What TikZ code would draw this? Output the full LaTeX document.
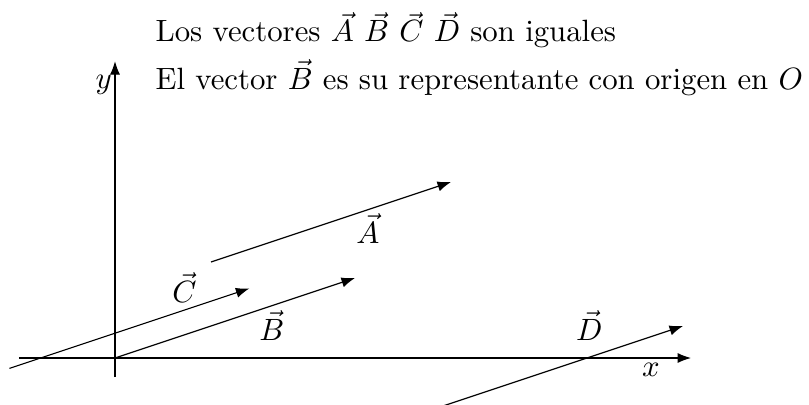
\documentclass[11pt,tikz,border=0pt]{standalone}
\usepackage{tikz}
\usetikzlibrary{arrows.meta}
\tikzset{
  axis/.style     = {->, >=Latex},          % coordinate axes
  vecarrow/.style = {->, >=Latex},          % the equal vectors
  vlabel/.style   = {inner sep=0pt},
  caption/.style  = {anchor=base west, inner sep=0pt}
}

\begin{document}
\begin{tikzpicture}
  \useasboundingbox (-1.4375,-0.575) rectangle (8.675,4.475);
  % axes
  \coordinate (O)  at (0,0);
  \coordinate (xl) at (-1.2,0);
  \coordinate (xr) at (7.2,0);
  \coordinate (yb) at (0,-0.24);
  \coordinate (yt) at (0,3.71);
  \draw[axis] (xl) -- (xr);
  \draw[axis] (yb) -- (yt);
  \node[vlabel] (xlab) at (6.7,-0.15) {$x$};
  \node[vlabel] (ylab) at (-0.14,3.41) {$y$};
  % vectors
  \coordinate (Bt) at (3,1);
  \coordinate (As) at (1.2,1.2);
  \coordinate (At) at (4.2,2.2);
  \coordinate (Cs) at (-1.32,-0.13);
  \coordinate (Ct) at (1.68,0.87);
  \coordinate (Ds) at (4.1,-0.6);
  \coordinate (Dt) at (7.1,0.4);
  \draw[vecarrow] (O) -- (Bt);
  \draw[vecarrow] (As) -- (At);
  \draw[vecarrow] (Cs) -- (Ct);
  \draw[vecarrow] (Ds) -- (Dt);
  \node[vlabel] (Alab) at (3.16,1.62) {$\vec{A}$};
  \node[vlabel] (Blab) at (1.96,0.41) {$\vec{B}$};
  \node[vlabel] (Clab) at (0.87,0.88) {$\vec{C}$};
  \node[vlabel] (Dlab) at (5.93,0.41) {$\vec{D}$};
  % text
  \node[caption] (line1) at (0.5,3.95)
    {Los vectores $\vec{A}$ $\vec{B}$ $\vec{C}$ $\vec{D}$ son iguales};
  \node[caption] (line2) at (0.5,3.36)
    {El vector $\vec{B}$ es su representante con origen en $O$};
\end{tikzpicture}
\end{document}
